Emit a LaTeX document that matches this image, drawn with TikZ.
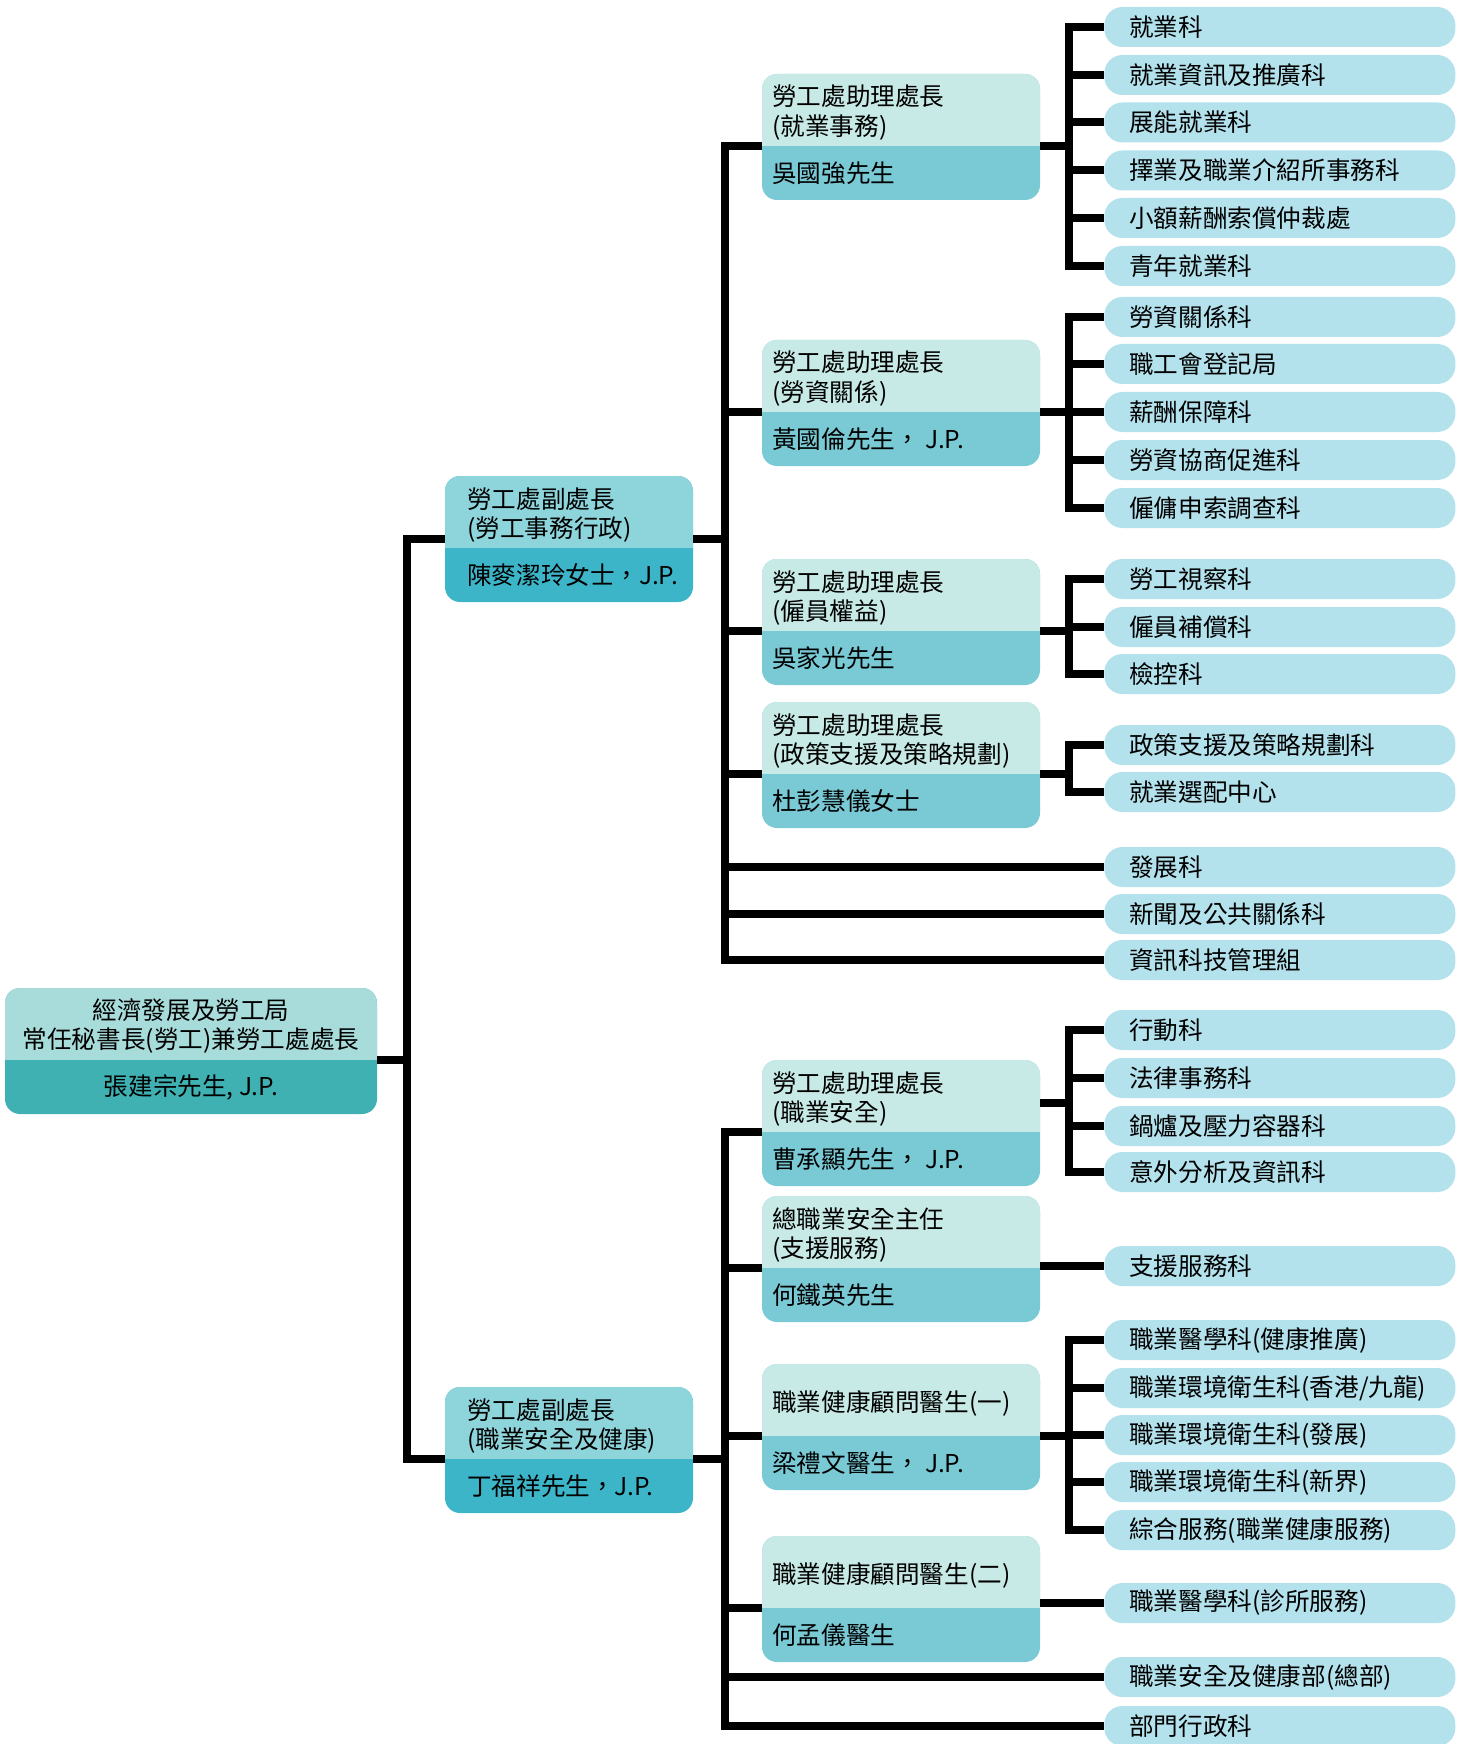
\documentclass[tikz,border=0pt]{standalone}
\usepackage{fontspec}
\newfontfamily\cjk{Noto Sans CJK TC}
\usetikzlibrary{calc}
\definecolor{rootTop}{HTML}{A8DCDA}
\definecolor{rootBot}{HTML}{3FB1B2}
\definecolor{depTop}{HTML}{8ED4DB}
\definecolor{depBot}{HTML}{3DB5C9}
\definecolor{asTop}{HTML}{C8EAE6}
\definecolor{asBot}{HTML}{7ACAD6}
\definecolor{secFill}{HTML}{B3E1EC}
\tikzset{cardtext/.style={font=\cjk\fontsize{14}{17}\selectfont, inner sep=0pt, minimum width=0pt, minimum height=0pt, align=left},
    card/.style n args={4}{
    rounded corners=0.3cm, inner sep=0pt, minimum height=2.52cm,
    path picture={
        \fill[#1,sharp corners] (path picture bounding box.north west) rectangle ($(path picture bounding box.north east)+(0,-1.44)$);
        \node[cardtext,anchor=west] at ($(path picture bounding box.north west)+(#2,-0.78)$) {#3};
        \node[cardtext,anchor=west] at ($(path picture bounding box.north west)+(#2,-1.98)$) {#4};
        }
    },
    topcard/.style n args={3}{
    rounded corners=0.3cm, inner sep=0pt, minimum height=2.52cm,
    path picture={
        \fill[#1,sharp corners] (path picture bounding box.north west) rectangle ($(path picture bounding box.north east)+(0,-1.44)$);
        \node[cardtext,align=center] at ($(path picture bounding box.north)+(0,-0.76)$) {#2};
        \node[cardtext] at ($(path picture bounding box.north)+(0,-1.98)$) {#3};
        }
    },
    sec/.style={anchor=west, fill=secFill, rounded corners=0.36cm, minimum height=0.8cm,
        text width=6.02cm, inner xsep=0.5cm, inner ysep=0pt, align=left,
        font=\cjk\fontsize{14}{17}\selectfont},
    link/.style={line width=0.16cm}
}
\begin{document}
\begin{tikzpicture}
	\useasboundingbox (0,0) rectangle (29.36,-34.88);

	\node[topcard={rootTop}{經濟發展及勞工局\\常任秘書長(勞工)兼勞工處處長}{張建宗先生, J.P.},fill=rootBot,minimum width=7.44cm] (R0) at (3.82,-21.02) {};

	\node[card={depTop}{0.44}{勞工處副處長\\(勞工事務行政)}{陳麥潔玲女士，J.P.},fill=depBot,minimum width=4.96cm] (D1) at (11.38,-10.78) {};
	\node[card={depTop}{0.44}{勞工處副處長\\(職業安全及健康)}{丁福祥先生，J.P.},fill=depBot,minimum width=4.96cm] (D2) at (11.38,-29.00) {};

	\node[card={asTop}{0.2}{勞工處助理處長\\(就業事務)}{吳國強先生},fill=asBot,minimum width=5.56cm] (A1) at (18.02,-2.74) {};
	\node[card={asTop}{0.2}{勞工處助理處長\\(勞資關係)}{黃國倫先生， J.P.},fill=asBot,minimum width=5.56cm] (A2) at (18.02,-8.06) {};
	\node[card={asTop}{0.2}{勞工處助理處長\\(僱員權益)}{吳家光先生},fill=asBot,minimum width=5.56cm] (A3) at (18.02,-12.44) {};
	\node[card={asTop}{0.2}{勞工處助理處長\\(政策支援及策略規劃)}{杜彭慧儀女士},fill=asBot,minimum width=5.56cm] (A4) at (18.02,-15.30) {};
	\node[card={asTop}{0.2}{勞工處助理處長\\(職業安全)}{曹承顯先生， J.P.},fill=asBot,minimum width=5.56cm] (A5) at (18.02,-22.46) {};
	\node[card={asTop}{0.2}{總職業安全主任\\(支援服務)}{何鐵英先生},fill=asBot,minimum width=5.56cm] (A6) at (18.02,-25.18) {};
	\node[card={asTop}{0.2}{職業健康顧問醫生(一)}{梁禮文醫生， J.P.},fill=asBot,minimum width=5.56cm] (A7) at (18.02,-28.54) {};
	\node[card={asTop}{0.2}{職業健康顧問醫生(二)}{何孟儀醫生},fill=asBot,minimum width=5.56cm] (A8) at (18.02,-31.98) {};

	\node[sec] (S1) at (22.08,-0.54) {就業科};
	\node[sec] (S2) at (22.08,-1.50) {就業資訊及推廣科};
	\node[sec] (S3) at (22.08,-2.45) {展能就業科};
	\node[sec] (S4) at (22.08,-3.41) {擇業及職業介紹所事務科};
	\node[sec] (S5) at (22.08,-4.36) {小額薪酬索償仲裁處};
	\node[sec] (S6) at (22.08,-5.32) {青年就業科};
	\node[sec] (S7) at (22.08,-6.34) {勞資關係科};
	\node[sec] (S8) at (22.08,-7.28) {職工會登記局};
	\node[sec] (S9) at (22.08,-8.24) {薪酬保障科};
	\node[sec] (S10) at (22.08,-9.20) {勞資協商促進科};
	\node[sec] (S11) at (22.08,-10.16) {僱傭申索調查科};
	\node[sec] (S12) at (22.08,-11.58) {勞工視察科};
	\node[sec] (S13) at (22.08,-12.54) {僱員補償科};
	\node[sec] (S14) at (22.08,-13.48) {檢控科};
	\node[sec] (S15) at (22.08,-14.90) {政策支援及策略規劃科};
	\node[sec] (S16) at (22.08,-15.84) {就業選配中心};
	\node[sec] (S17) at (22.08,-17.34) {發展科};
	\node[sec] (S18) at (22.08,-18.28) {新聞及公共關係科};
	\node[sec] (S19) at (22.08,-19.20) {資訊科技管理組};
	\node[sec] (S20) at (22.08,-20.60) {行動科};
	\node[sec] (S21) at (22.08,-21.56) {法律事務科};
	\node[sec] (S22) at (22.08,-22.52) {鍋爐及壓力容器科};
	\node[sec] (S23) at (22.08,-23.44) {意外分析及資訊科};
	\node[sec] (S24) at (22.08,-25.32) {支援服務科};
	\node[sec] (S25) at (22.08,-26.80) {職業醫學科(健康推廣)};
	\node[sec] (S26) at (22.08,-27.76) {職業環境衛生科(香港/九龍)};
	\node[sec] (S27) at (22.08,-28.70) {職業環境衛生科(發展)};
	\node[sec] (S28) at (22.08,-29.64) {職業環境衛生科(新界)};
	\node[sec] (S29) at (22.08,-30.60) {綜合服務(職業健康服務)};
	\node[sec] (S30) at (22.08,-32.06) {職業醫學科(診所服務)};
	\node[sec] (S31) at (22.08,-33.54) {職業安全及健康部(總部)};
	\node[sec] (S32) at (22.08,-34.52) {部門行政科};

	% root to deputies
	\draw [link] ([yshift=-0.18cm]R0.east) -- ++(0.64,0);
	\draw [link] (D1.west) -- ++(-0.76,0) |- ([yshift=-0.18cm]D2.west);

	% labour administration branch
	\draw [link] (D1.east) -- ++(0.68,0);
	\draw [link] ([yshift=-0.18cm]A1.west) -- ++(-0.74,0) |- (S19.west);
	\draw [link] ([yshift=-0.18cm]A2.west) -- ++(-0.78,0);
	\draw [link] ([yshift=-0.18cm]A3.west) -- ++(-0.78,0);
	\draw [link] ([yshift=-0.18cm]A4.west) -- ++(-0.78,0);
	\draw [link] (S17.west) -- ++(-7.62,0);
	\draw [link] (S18.west) -- ++(-7.62,0);

	\draw [link] ([yshift=-0.18cm]A1.east) -- ++(0.62,0);
	\draw [link] (S1.west) -- ++(-0.70,0) |- (S6.west);
	\draw [link] (S2.west) -- ++(-0.74,0);
	\draw [link] (S3.west) -- ++(-0.74,0);
	\draw [link] (S4.west) -- ++(-0.74,0);
	\draw [link] (S5.west) -- ++(-0.74,0);

	\draw [link] ([yshift=-0.18cm]A2.east) -- ++(0.62,0);
	\draw [link] (S7.west) -- ++(-0.70,0) |- (S11.west);
	\draw [link] (S8.west) -- ++(-0.74,0);
	\draw [link] (S9.west) -- ++(-0.74,0);
	\draw [link] (S10.west) -- ++(-0.74,0);

	\draw [link] ([yshift=-0.18cm]A3.east) -- ++(0.62,0);
	\draw [link] (S12.west) -- ++(-0.70,0) |- (S14.west);
	\draw [link] (S13.west) -- ++(-0.74,0);

	\draw [link] ([yshift=-0.18cm]A4.east) -- ++(0.62,0);
	\draw [link] (S15.west) -- ++(-0.70,0) |- (S16.west);

	% safety and health branch
	\draw [link] ([yshift=-0.18cm]D2.east) -- ++(0.68,0);
	\draw [link] ([yshift=-0.18cm]A5.west) -- ++(-0.74,0) |- (S32.west);
	\draw [link] ([yshift=-0.18cm]A6.west) -- ++(-0.78,0);
	\draw [link] ([yshift=-0.18cm]A7.west) -- ++(-0.78,0);
	\draw [link] ([yshift=-0.18cm]A8.west) -- ++(-0.78,0);
	\draw [link] (S31.west) -- ++(-7.62,0);

	\draw [link] ([yshift=0.40cm]A5.east) -- ++(0.62,0);
	\draw [link] (S20.west) -- ++(-0.70,0) |- (S23.west);
	\draw [link] (S21.west) -- ++(-0.74,0);
	\draw [link] (S22.west) -- ++(-0.74,0);

	\draw [link] (A6.east |- S24.west) -- (S24.west);

	\draw [link] ([yshift=-0.18cm]A7.east) -- ++(0.62,0);
	\draw [link] (S25.west) -- ++(-0.70,0) |- (S29.west);
	\draw [link] (S26.west) -- ++(-0.74,0);
	\draw [link] (S27.west) -- ++(-0.74,0);
	\draw [link] (S28.west) -- ++(-0.74,0);

	\draw [link] (A8.east |- S30.west) -- (S30.west);

\end{tikzpicture}
\end{document}
